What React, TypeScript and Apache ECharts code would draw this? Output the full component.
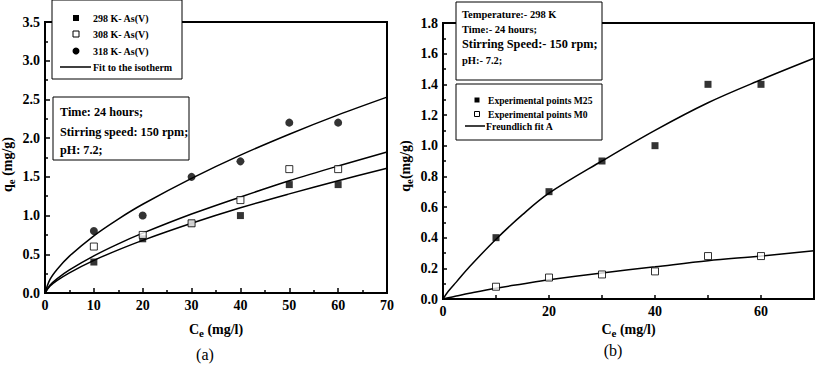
import React, { useEffect, useRef } from "react";
import * as echarts from "echarts";

// ---- Panel (a) data ----
const ceA = [10, 20, 30, 40, 50, 60];
const q298 = [0.4, 0.7, 0.9, 1.0, 1.4, 1.4];
const q308 = [0.6, 0.75, 0.9, 1.2, 1.6, 1.6];
const q318 = [0.8, 1.0, 1.5, 1.7, 2.2, 2.2];
const fitXA = [0, 1, 2.5, 5, 10, 15, 20, 30, 40, 50, 60, 70];
const fit298 = [0, 0.086, 0.162, 0.261, 0.421, 0.557, 0.68, 0.9, 1.1, 1.28, 1.45, 1.61];
const fit308 = [0, 0.099, 0.186, 0.299, 0.48, 0.635, 0.773, 1.02, 1.24, 1.45, 1.64, 1.82];
const fit318 = [0, 0.172, 0.307, 0.476, 0.739, 0.955, 1.146, 1.48, 1.78, 2.05, 2.3, 2.53];

// ---- Panel (b) data ----
const ceB = [10, 20, 30, 40, 50, 60];
const qM25 = [0.4, 0.7, 0.9, 1.0, 1.4, 1.4];
const qM0 = [0.08, 0.14, 0.16, 0.18, 0.28, 0.28];
const fitXB = [0, 1, 2.5, 5, 10, 15, 20, 30, 40, 50, 60, 70];
const fitM25 = [0, 0.05, 0.11, 0.21, 0.39, 0.55, 0.69, 0.9, 1.1, 1.28, 1.43, 1.57];
const fitM0 = [0, 0.008, 0.019, 0.037, 0.07, 0.098, 0.125, 0.17, 0.21, 0.25, 0.28, 0.315];

const legendA = ["298 K- As(V)", "308 K- As(V)", "318 K- As(V)", "Fit to the isotherm"];
const infoA = ["Time: 24 hours;", "Stirring speed: 150 rpm;", "pH: 7.2;"];
const infoB = ["Temperature:- 298 K", "Time:- 24 hours;", "Stirring Speed:- 150 rpm;", "pH:- 7.2;"];
const legendB = ["Experimental points M25", "Experimental points M0", "Freundlich fit A"];

const FF = "Liberation Serif, serif";

const zip = (xs: number[], ys: number[]) => xs.map((x, i) => [x, ys[i]]);

export default function App() {
  const ref = useRef<HTMLDivElement>(null);
  useEffect(() => {
    const chart = echarts.init(ref.current!, null, { renderer: "svg" });

    const axisLabel = (fmt: (v: number) => string) => ({
      color: "#000",
      fontFamily: FF,
      fontWeight: "bold" as const,
      fontSize: 14,
      margin: 5,
      formatter: fmt,
    });
    const richName = {
      b: { fontFamily: FF, fontWeight: "bold" as const, fontSize: 14, color: "#000" },
      s: { fontFamily: FF, fontWeight: "bold" as const, fontSize: 11, color: "#000", padding: [7, 0, 0, 0] },
    };
    const axisLine = { show: true, lineStyle: { color: "#000", width: 2 } };
    const tick = { show: true, inside: true, length: 5, lineStyle: { color: "#000", width: 1.5 } };
    const tickB = { show: true, inside: true, length: 4, lineStyle: { color: "#000", width: 1.5 } };
    const minor = { show: true, splitNumber: 2, length: 3, lineStyle: { color: "#000", width: 1.5 } };

    const txt = (x: number, y: number, text: string, size: number) => ({
      type: "text",
      z: 101,
      style: { x, y, text, fontFamily: FF, fontWeight: "bold", fontSize: size, fill: "#000", verticalAlign: "middle" },
    });
    const box = (x: number, y: number, w: number, h: number) => ({
      type: "rect",
      z: 100,
      shape: { x, y, width: w, height: h },
      style: { fill: "#fff", stroke: "#000", lineWidth: 1 },
    });
    const sqFilled = (cx: number, cy: number, s: number) => ({
      type: "rect", z: 101, shape: { x: cx - s / 2, y: cy - s / 2, width: s, height: s },
      style: { fill: "#000" },
    });
    const sqOpen = (cx: number, cy: number, s: number) => ({
      type: "rect", z: 101, shape: { x: cx - s / 2, y: cy - s / 2, width: s, height: s },
      style: { fill: "#fff", stroke: "#000", lineWidth: 1 },
    });

    const fitLine = (name: string, xi: number, xs: number[], ys: number[]) => ({
      name,
      type: "line",
      xAxisIndex: xi,
      yAxisIndex: xi,
      data: zip(xs, ys),
      smooth: 0.35,
      showSymbol: false,
      lineStyle: { color: "#000", width: 1.5 },
      z: 3,
    });

    chart.setOption({
      animation: false,
      backgroundColor: "#fff",
      grid: [
        { left: 45, top: 22, width: 342, height: 271, show: true, borderColor: "#000", borderWidth: 2, containLabel: false, outerBoundsMode: "none" },
        { left: 443, top: 23, width: 371, height: 276, show: true, borderColor: "#000", borderWidth: 2, containLabel: false, outerBoundsMode: "none" },
      ],
      xAxis: [
        {
          gridIndex: 0, type: "value", min: 0, max: 70, interval: 10,
          axisLine, axisTick: tick, minorTick: minor, splitLine: { show: false },
          axisLabel: axisLabel((v) => String(v)),
          name: "{b|C}{s|e}{b| (mg/l)}", nameLocation: "middle", nameGap: 27,
          nameTextStyle: { rich: richName },
        },
        {
          gridIndex: 1, type: "value", min: 0, max: 70, interval: 10,
          axisLine, axisTick: tickB, splitLine: { show: false },
          axisLabel: axisLabel((v) => (v % 20 === 0 ? String(v) : "")),
          name: "{b|C}{s|e}{b| (mg/l)}", nameLocation: "middle", nameGap: 18,
          nameTextStyle: { rich: richName },
        },
      ],
      yAxis: [
        {
          gridIndex: 0, type: "value", min: 0, max: 3.5, interval: 0.5,
          axisLine, axisTick: tick, minorTick: minor, splitLine: { show: false },
          axisLabel: axisLabel((v) => v.toFixed(1)),
          name: "{b|q}{s|e}{b| (mg/g)}", nameLocation: "middle", nameGap: 29, nameRotate: 90,
          nameTextStyle: { rich: richName, padding: [0, 14, 0, 0] },
        },
        {
          gridIndex: 1, type: "value", min: 0, max: 1.8, interval: 0.2,
          axisLine, axisTick: tickB, minorTick: minor, splitLine: { show: false },
          axisLabel: axisLabel((v) => v.toFixed(1)),
          name: "{b|q}{s|e}{b|(mg/g)}", nameLocation: "middle", nameGap: 29, nameRotate: 90,
          nameTextStyle: { rich: richName, padding: [0, 10, 0, 0] },
        },
      ],
      series: [
        fitLine("fit298", 0, fitXA, fit298),
        fitLine("fit308", 0, fitXA, fit308),
        fitLine("fit318", 0, fitXA, fit318),
        {
          name: legendA[0], type: "scatter", xAxisIndex: 0, yAxisIndex: 0,
          data: zip(ceA, q298), symbol: "rect", symbolSize: 7,
          itemStyle: { color: "#000" }, z: 4,
        },
        {
          name: legendA[1], type: "scatter", xAxisIndex: 0, yAxisIndex: 0,
          data: zip(ceA, q308), symbol: "rect", symbolSize: 7,
          itemStyle: { color: "#fff", borderColor: "#000", borderWidth: 1 }, z: 5,
        },
        {
          name: legendA[2], type: "scatter", xAxisIndex: 0, yAxisIndex: 0,
          data: zip(ceA, q318), symbol: "circle", symbolSize: 8,
          itemStyle: { color: "#000" }, z: 4,
        },
        fitLine("fitM25", 1, fitXB, fitM25),
        fitLine("fitM0", 1, fitXB, fitM0),
        {
          name: legendB[0], type: "scatter", xAxisIndex: 1, yAxisIndex: 1,
          data: zip(ceB, qM25), symbol: "rect", symbolSize: 7,
          itemStyle: { color: "#000" }, z: 4,
        },
        {
          name: legendB[1], type: "scatter", xAxisIndex: 1, yAxisIndex: 1,
          data: zip(ceB, qM0), symbol: "rect", symbolSize: 7,
          itemStyle: { color: "#fff", borderColor: "#000", borderWidth: 1 }, z: 5,
        },
      ],
      graphic: [
        // panel (a) legend
        box(52, 0, 130, 79),
        sqFilled(76, 18, 6),
        sqOpen(76, 34, 6),
        { type: "circle", z: 101, shape: { cx: 76, cy: 51, r: 3.5 }, style: { fill: "#000" } },
        { type: "line", z: 101, shape: { x1: 60, y1: 67, x2: 91, y2: 67 }, style: { stroke: "#000", lineWidth: 1.5 } },
        txt(93, 18, legendA[0], 10),
        txt(93, 34, legendA[1], 10),
        txt(93, 51, legendA[2], 10),
        txt(93, 67, legendA[3], 10),
        // panel (a) conditions
        box(53, 97, 136, 63),
        txt(60, 112, infoA[0], 12.2),
        txt(60, 132, infoA[1], 12.2),
        txt(60, 150, infoA[2], 12.2),
        // panel (b) conditions
        box(456, 2, 146, 78),
        txt(462, 14, infoB[0], 10.5),
        txt(462, 29, infoB[1], 10.5),
        txt(462, 44, infoB[2], 12.3),
        txt(462, 60, infoB[3], 10.5),
        // panel (b) legend
        box(456, 84, 146, 56),
        sqFilled(477, 100, 5),
        sqOpen(477, 114, 5),
        { type: "line", z: 101, shape: { x1: 465, y1: 126, x2: 485, y2: 126 }, style: { stroke: "#000", lineWidth: 1.5 } },
        txt(488, 100, legendB[0], 9.6),
        txt(488, 114, legendB[1], 9.6),
        txt(486, 126, legendB[2], 9.8),
        // panel captions
        { type: "text", z: 101, style: { x: 205, y: 354, text: "(a)", fontFamily: FF, fontSize: 16, fill: "#000", align: "center", verticalAlign: "middle" } },
        { type: "text", z: 101, style: { x: 613, y: 350, text: "(b)", fontFamily: FF, fontSize: 16, fill: "#000", align: "center", verticalAlign: "middle" } },
      ],
    });
    return () => chart.dispose();
  }, []);
  return (
    <div
      ref={ref}
      style={{ position: "fixed", left: 0, top: 0, width: 817, height: 365, background: "#fff" }}
    />
  );
}
